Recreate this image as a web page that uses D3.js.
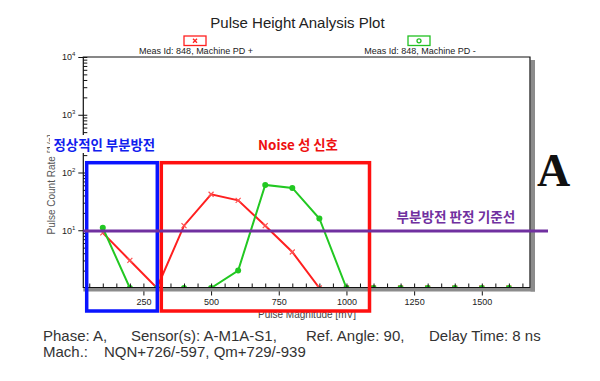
<!DOCTYPE html>
<html>
<head>
<meta charset="utf-8">
<script src="https://cdn.jsdelivr.net/npm/d3@7"></script>
<style>
  body { margin: 0; background: #fff; }
  text { font-family: "Liberation Sans", Arial, sans-serif; }
  .kr { font-family: "Noto Sans CJK KR", sans-serif; font-weight: bold; }
  .serif { font-family: "Liberation Serif", "Times New Roman", serif; font-weight: bold; }
</style>
</head>
<body>
<div id="chart"></div>
<script>
// pulse magnitudes (mV) and count rates
let magnitudes = [100, 200, 300, 400, 500, 600, 700, 800, 900, 1000, 1100, 1200, 1300, 1400, 1500, 1600];
let countsPlus = [9, 3, 1, 12, 42, 33, 12, 4.2, 1, 1, 1, 1, 1, 1, 1, 1];
let countsMinus = [11, 1, 1, 1, 1, 2, 61, 54, 16, 1, 1, 1, 1, 1, 1, 1];
let xTickLabels = [250, 500, 750, 1000, 1250, 1500];
let yDecades = [1, 2, 3, 4];
let thresholdCount = 10;

let svgWidth = 600;
let svgHeight = 381;

let plot = { left: 83.3, right: 530, top: 57, bottom: 287.5 };

let svg = d3.select("#chart")
    .append("svg")
    .attr("width", svgWidth)
    .attr("height", svgHeight);

let x = d3.scaleLinear()
    .domain([28, 1678])
    .range([plot.left, plot.right]);

let y = d3.scaleLog()
    .domain([1, 10000])
    .range([288, plot.top]);

// title + legend
svg.append("text")
    .attr("x", 297.5)
    .attr("y", 28)
    .attr("text-anchor", "middle")
    .attr("font-size", "15px")
    .attr("fill", "#222")
    .text("Pulse Height Analysis Plot");

let legend = [
    { cx: 195, label: "Meas Id: 848, Machine PD +", color: "#ff2020", mark: "x" },
    { cx: 419, label: "Meas Id: 848, Machine PD -", color: "#22c022", mark: "o" }
];

legend.forEach(l => {
    svg.append("rect")
        .attr("x", l.cx - 11)
        .attr("y", 36)
        .attr("width", 22)
        .attr("height", 9.5)
        .attr("fill", "none")
        .attr("stroke", l.color)
        .attr("stroke-width", 1.3);
    if (l.mark === "x") {
        svg.append("path")
            .attr("d", `M${l.cx - 2},${38.8}L${l.cx + 2},${42.8}M${l.cx + 2},${38.8}L${l.cx - 2},${42.8}`)
            .attr("stroke", l.color)
            .attr("stroke-width", 1.3);
    } else {
        svg.append("circle")
            .attr("cx", l.cx)
            .attr("cy", 40.8)
            .attr("r", 2)
            .attr("fill", "none")
            .attr("stroke", l.color)
            .attr("stroke-width", 1.3);
    }
    svg.append("text")
        .attr("x", l.cx + 1)
        .attr("y", 54)
        .attr("text-anchor", "middle")
        .attr("font-size", "9px")
        .attr("fill", "#222")
        .text(l.label);
});

// data lines, clipped to the plot area
svg.append("clipPath")
    .attr("id", "plotClip")
    .append("rect")
    .attr("x", plot.left)
    .attr("y", plot.top)
    .attr("width", plot.right - plot.left)
    .attr("height", plot.bottom - plot.top);

let dataGroup = svg.append("g").attr("clip-path", "url(#plotClip)");

let line = d3.line()
    .x(d => x(d[0]))
    .y(d => y(d[1]));

let plusData = magnitudes.map((m, i) => [m, countsPlus[i]]);
let minusData = magnitudes.map((m, i) => [m, countsMinus[i]]);

dataGroup.append("path")
    .datum(plusData)
    .attr("d", line)
    .attr("fill", "none")
    .attr("stroke", "#ff2020")
    .attr("stroke-width", 2);

dataGroup.selectAll(".xMark")
    .data(plusData)
    .enter()
    .append("path")
    .attr("class", "xMark")
    .attr("d", d => {
        let cx = x(d[0]), cy = y(d[1]);
        return `M${cx - 2.5},${cy - 2.5}L${cx + 2.5},${cy + 2.5}M${cx + 2.5},${cy - 2.5}L${cx - 2.5},${cy + 2.5}`;
    })
    .attr("stroke", "#ff5050")
    .attr("stroke-width", 1.2);

dataGroup.append("path")
    .datum(minusData)
    .attr("d", line)
    .attr("fill", "none")
    .attr("stroke", "#22c822")
    .attr("stroke-width", 2);

dataGroup.selectAll(".oMark")
    .data(minusData)
    .enter()
    .append("circle")
    .attr("class", "oMark")
    .attr("cx", d => x(d[0]))
    .attr("cy", d => y(d[1]))
    .attr("r", 3)
    .attr("fill", "#22c822");

// y axis (log) -- major ticks cross the axis, minor ticks point inwards
let minorY = [];
[0, 1, 2, 3].forEach(e => {
    for (let k = 2; k <= 9; k++) minorY.push(k * Math.pow(10, e));
});

let yMinor = svg.append("g")
    .attr("transform", `translate(${plot.left}, 0)`)
    .call(d3.axisRight(y).tickValues(minorY.concat(yDecades.map(e => Math.pow(10, e)))).tickSize(4).tickFormat(""));

let yMajor = svg.append("g")
    .attr("transform", `translate(${plot.left}, 0)`)
    .call(d3.axisLeft(y).tickValues(yDecades.map(e => Math.pow(10, e))).tickSize(5).tickPadding(3).tickFormat(""));

[yMinor, yMajor].forEach(g => {
    g.select(".domain").remove();
    g.selectAll("line").attr("stroke", "#111").attr("stroke-width", 1);
});

yMajor.selectAll(".tick text")
    .attr("font-size", "9px")
    .attr("fill", "#222")
    .each(function(d) {
        let t = d3.select(this);
        t.append("tspan").text("10");
        t.append("tspan")
            .attr("font-size", "6px")
            .attr("dy", "-4")
            .text(Math.round(Math.log10(d)));
    });

// x axis
let minorX = d3.range(50, 1700, 50);

let xMinor = svg.append("g")
    .attr("transform", `translate(0, ${plot.bottom})`)
    .call(d3.axisTop(x).tickValues(minorX).tickSize(4).tickFormat(""));

let xMajor = svg.append("g")
    .attr("transform", `translate(0, ${plot.bottom})`)
    .call(d3.axisBottom(x).tickValues(xTickLabels).tickSize(8).tickPadding(3).tickFormat(d3.format("d")));

[xMinor, xMajor].forEach(g => {
    g.select(".domain").remove();
    g.selectAll("line").attr("stroke", "#111").attr("stroke-width", 1);
});

xMajor.selectAll(".tick text")
    .attr("font-size", "9px")
    .attr("fill", "#222")
    .style("font-family", "Liberation Sans, Arial, sans-serif");

// frame with the grey shadow on the right and bottom
svg.append("rect")
    .attr("x", plot.right + 0.5)
    .attr("y", plot.top + 3)
    .attr("width", 4.5)
    .attr("height", plot.bottom - plot.top + 1)
    .attr("fill", "#8c8c8c");

svg.append("rect")
    .attr("x", plot.left)
    .attr("y", plot.bottom + 0.5)
    .attr("width", plot.right - plot.left + 5)
    .attr("height", 3.5)
    .attr("fill", "#8c8c8c");

svg.append("path")
    .attr("d", `M${plot.left},${plot.bottom}V${plot.top}H${plot.right}V${plot.bottom}Z`)
    .attr("fill", "none")
    .attr("stroke", "#111")
    .attr("stroke-width", 1.2);

// axis titles
svg.append("text")
    .attr("transform", `translate(54.5, 184.5) rotate(-90)`)
    .attr("text-anchor", "middle")
    .attr("font-size", "10px")
    .attr("fill", "#555")
    .text("Pulse Count Rate [1/s]");

svg.append("text")
    .attr("x", 307)
    .attr("y", 318)
    .attr("text-anchor", "middle")
    .attr("font-size", "10px")
    .attr("fill", "#444")
    .text("Pulse Magnitude [mV]");

// annotation boxes
svg.append("rect")
    .attr("x", 86.7)
    .attr("y", 162.7)
    .attr("width", 70.6)
    .attr("height", 148.3)
    .attr("fill", "none")
    .attr("stroke", "#0a14ff")
    .attr("stroke-width", 3.5);

svg.append("rect")
    .attr("x", 161.3)
    .attr("y", 162.7)
    .attr("width", 208.2)
    .attr("height", 148.3)
    .attr("fill", "none")
    .attr("stroke", "#ff1010")
    .attr("stroke-width", 3.5);

// threshold line
svg.append("line")
    .attr("x1", plot.left)
    .attr("x2", 548)
    .attr("y1", y(thresholdCount) + 0.8)
    .attr("y2", y(thresholdCount) + 0.8)
    .attr("stroke", "#7030a0")
    .attr("stroke-width", 3);

// Korean annotations
svg.append("rect")
    .attr("x", 50)
    .attr("y", 135)
    .attr("width", 120)
    .attr("height", 18)
    .attr("fill", "#fff");

svg.append("text")
    .attr("class", "kr")
    .attr("x", 53.5)
    .attr("y", 149.5)
    .attr("font-size", "13.4px")
    .attr("fill", "#1020ee")
    .text("정상적인 부분방전");

svg.append("text")
    .attr("class", "kr")
    .attr("x", 258)
    .attr("y", 149.5)
    .attr("font-size", "13.4px")
    .attr("fill", "#ee1010")
    .text("Noise 성 신호");

svg.append("text")
    .attr("class", "kr")
    .attr("x", 396.5)
    .attr("y", 222)
    .attr("font-size", "13.6px")
    .attr("fill", "#7030a0")
    .text("부분방전 판정 기준선");

svg.append("text")
    .attr("class", "serif")
    .attr("x", 537)
    .attr("y", 186)
    .attr("font-size", "46px")
    .attr("fill", "#111")
    .text("A");

// measurement info under the plot
let infoLine1 = [
    { x: 43, text: "Phase: A," },
    { x: 131, text: "Sensor(s): A-M1A-S1," },
    { x: 306, text: "Ref. Angle: 90," },
    { x: 429, text: "Delay Time: 8 ns" }
];
let infoLine2 = [
    { x: 43, text: "Mach.:" },
    { x: 104, text: "NQN+726/-597, Qm+729/-939" }
];

infoLine1.forEach(d => {
    svg.append("text")
        .attr("x", d.x)
        .attr("y", 341)
        .attr("font-size", "15px")
        .attr("fill", "#333")
        .text(d.text);
});

infoLine2.forEach(d => {
    svg.append("text")
        .attr("x", d.x)
        .attr("y", 356.5)
        .attr("font-size", "15px")
        .attr("fill", "#333")
        .text(d.text);
});
</script>
</body>
</html>
